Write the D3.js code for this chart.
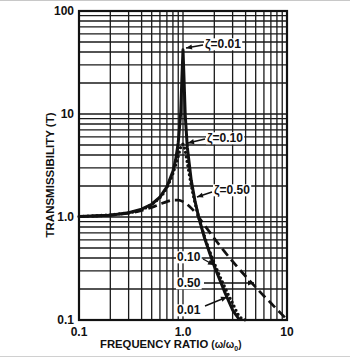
<!DOCTYPE html>
<html>
<head>
<meta charset="utf-8">
<script src="https://cdn.jsdelivr.net/npm/d3@7"></script>
<style>
html,body{margin:0;padding:0;background:#fff;}
svg{display:block;font-family:"Liberation Sans",Arial,Helvetica,sans-serif;}
</style>
</head>
<body>
<svg id="c" width="350" height="359"></svg>
<script>
// Frequency ratio values and transmissibility readings for each damping ratio
const ratio001 = [0.1,0.2,0.3,0.4,0.5,0.6,0.7,0.8,0.85,0.9,0.95,0.98,1.0,1.02,1.05,1.1,1.2,1.3,1.414,1.6,1.8,2.0,2.5,3.0,3.5];
const trans001 = [1.01,1.04,1.10,1.19,1.33,1.56,1.96,2.78,3.6,5.26,10.2,25,42,24,9.8,4.76,2.27,1.45,1.0,0.64,0.45,0.333,0.19,0.125,0.1];

const ratio010 = [0.1,0.3,0.5,0.7,0.8,0.85,0.9,0.95,1.0,1.05,1.1,1.2,1.3,1.414,1.6,2.0,2.5,3.0,3.5,4.0];
const trans010 = [1.01,1.10,1.33,1.94,2.65,3.2,3.88,4.77,5.1,4.37,3.37,2.05,1.40,1.0,0.66,0.356,0.212,0.145,0.108,0.1];

const ratio050 = [0.1,0.3,0.5,0.6,0.7,0.8,0.9,1.0,1.2,1.414,1.6,2.0,2.5,3.0,4.0,5.0,6.0,7.0,8.0,10.0];
const trans050 = [1.01,1.09,1.24,1.33,1.41,1.46,1.46,1.41,1.22,1.0,0.84,0.62,0.463,0.37,0.266,0.208,0.171,0.146,0.127,0.101];

const xTicks = [0.1, 1, 10];
const xTickLabels = ["0.1", "1.0", "10"];
const yTicks = [0.1, 1, 10, 100];
const yTickLabels = ["0.1", "1.0", "10", "100"];

const svg = d3.select("#c");
const L = 79, R = 287, T = 11, B = 320;
const x = d3.scaleLog().domain([0.1, 10]).range([L, R]);
const y = d3.scaleLog().domain([0.1, 100]).range([B, T]);

// scan edge lines
svg.append("line").attr("x1",0).attr("x2",350).attr("y1",0.5).attr("y2",0.5).attr("stroke","#c8c8c8");
svg.append("line").attr("x1",0).attr("x2",350).attr("y1",356.5).attr("y2",356.5).attr("stroke","#d0d0d0");

// grid
const xMinor = [], yMinor = [];
[0.1, 1].forEach(d => { for (let k = 1; k <= 9; k++) xMinor.push(d * k); });
[0.1, 1, 10].forEach(d => { for (let k = 1; k <= 9; k++) yMinor.push(d * k); });
const g = svg.append("g");
g.selectAll(".vx").data(xMinor).enter().append("line")
  .attr("x1", d => x(d)).attr("x2", d => x(d)).attr("y1", T).attr("y2", B)
  .attr("stroke", "#1a1a1a").attr("stroke-width", 1.3);
g.selectAll(".hy").data(yMinor).enter().append("line")
  .attr("y1", d => y(d)).attr("y2", d => y(d)).attr("x1", L).attr("x2", R)
  .attr("stroke", "#1a1a1a").attr("stroke-width", 1.3);
svg.append("rect").attr("x", L).attr("y", T).attr("width", R - L).attr("height", B - T)
  .attr("fill", "none").attr("stroke", "#111").attr("stroke-width", 2.2);

// curves
const line = d3.line().x(d => x(d[0])).y(d => y(d[1])).curve(d3.curveMonotoneX);
const s050 = ratio050.map((r, i) => [r, trans050[i]]);
const s010 = ratio010.map((r, i) => [r, trans010[i]]);
const s001 = ratio001.map((r, i) => [r, trans001[i]]);
svg.append("path").attr("d", line(s050)).attr("fill", "none").attr("stroke", "#111")
  .attr("stroke-width", 2.7).attr("stroke-dasharray", "9,5");
svg.append("path").attr("d", line(s010)).attr("fill", "none").attr("stroke", "#111")
  .attr("stroke-width", 3.3).attr("stroke-linecap", "round").attr("stroke-dasharray", "0,4.5");
svg.append("path").attr("d", d3.line().x(d => x(d[0])).y(d => y(d[1])).curve(d3.curveLinear)(s001))
  .attr("fill", "none").attr("stroke", "#111").attr("stroke-width", 3).attr("stroke-linejoin", "round");

// axis tick labels
svg.selectAll(".yl").data(yTicks).enter().append("text")
  .attr("x", 74).attr("y", d => y(d)).attr("dy", "0.36em").attr("text-anchor", "end")
  .attr("font-size", 12).attr("font-weight", "bold").attr("fill", "#111")
  .text((d, i) => yTickLabels[i]);
svg.selectAll(".xl").data(xTicks).enter().append("text")
  .attr("x", d => x(d)).attr("y", 336).attr("text-anchor", "middle")
  .attr("font-size", 12).attr("font-weight", "bold").attr("fill", "#111")
  .text((d, i) => xTickLabels[i]);

// axis titles
const xt = svg.append("text").attr("x", 100).attr("y", 348)
  .attr("font-size", 11.3).attr("font-weight", "bold").attr("fill", "#111");
xt.append("tspan").text("FREQUENCY RATIO ");
xt.append("tspan").attr("font-size", 10).text("(ω/ω");
xt.append("tspan").attr("font-size", 7).attr("dy", 2.5).text("0");
xt.append("tspan").attr("font-size", 10).attr("dy", -2.5).text(")");
svg.append("text").attr("transform", "translate(54,175) rotate(-90)")
  .attr("text-anchor", "middle").attr("font-size", 11.5).attr("font-weight", "bold").attr("fill", "#111")
  .text("TRANSMISSIBILITY (T)");

// annotations
const notes = [
  {t: "ζ=0.01", tx: 205, ty: 44, x1: 203, y1: 45, x2: 186, y2: 48},
  {t: "ζ=0.10", tx: 207, ty: 138, x1: 205, y1: 139, x2: 188, y2: 143},
  {t: "ζ=0.50", tx: 214, ty: 190, x1: 212, y1: 192, x2: 197, y2: 197},
  {t: "0.10", tx: 177, ty: 257, x1: 203, y1: 259, x2: 214, y2: 265},
  {t: "0.50", tx: 177, ty: 283, x1: 204, y1: 283, x2: 254, y2: 283},
  {t: "0.01", tx: 177, ty: 310, x1: 205, y1: 306, x2: 227, y2: 297}
];
const bg = svg.append("g");
const ng = svg.append("g");
notes.forEach(n => {
  const tt = ng.append("text").attr("x", n.tx).attr("y", n.ty).attr("dy", "0.36em")
    .attr("font-size", 12).attr("font-weight", "bold").attr("fill", "#111").text(n.t);
  const bb = tt.node().getBBox();
  bg.append("rect").attr("x", bb.x - 1).attr("y", bb.y + 1).attr("width", bb.width + 2)
    .attr("height", bb.height - 2).attr("fill", "#fff");
  ng.append("line").attr("x1", n.x1).attr("y1", n.y1).attr("x2", n.x2).attr("y2", n.y2)
    .attr("stroke", "#111").attr("stroke-width", 1.4);
  const a = Math.atan2(n.y2 - n.y1, n.x2 - n.x1);
  const len = 6, w = 2.6;
  const bx = n.x2 - len * Math.cos(a), by = n.y2 - len * Math.sin(a);
  const p = [[n.x2, n.y2], [bx - w * Math.sin(a), by + w * Math.cos(a)], [bx + w * Math.sin(a), by - w * Math.cos(a)]];
  ng.append("path").attr("d", "M" + p.map(q => q.join(",")).join("L") + "Z").attr("fill", "#111");
});
</script>
</body>
</html>
